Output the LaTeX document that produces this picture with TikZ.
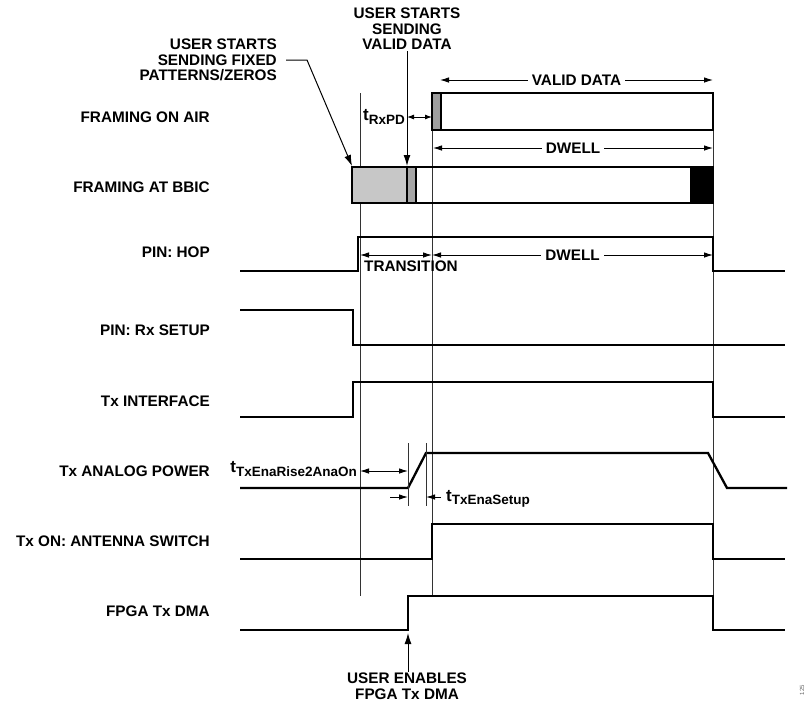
\documentclass[tikz,border=0pt]{standalone}
\usepackage{fontspec}
\setmainfont{Liberation Sans}
\usetikzlibrary{arrows.meta}

\newcommand{\tsub}[1]{{\fontsize{17}{17}\selectfont t}\raisebox{-0.45ex}{\fontsize{13.5}{14}\selectfont #1}}

\begin{document}
\begin{tikzpicture}[x=1pt, y=-1pt,
    every node/.style={font=\fontsize{15.3}{15.5}\selectfont\bfseries, inner sep=1pt},
    sig/.style={line width=2.3pt, line join=miter},
    guide/.style={line width=0.8pt, black!80},
    frame/.style={draw, line width=2pt},
    dim/.style={line width=0.9pt, {Latex[length=9pt,width=5.5pt]}-{Latex[length=9pt,width=5.5pt]}},
    tick/.style={line width=0.9pt, -{Latex[length=9pt,width=5.5pt]}},
    ptr/.style={line width=1pt, -{Latex[length=11pt,width=7pt]}}]

    \useasboundingbox (0,0) rectangle (810,705);

    % Row labels
        \foreach \y/\txt/\nm in {117/FRAMING ON AIR/air, 187/FRAMING AT BBIC/bbic, 252/PIN: HOP/hop,
                330/PIN: Rx SETUP/rxsetup, 401/Tx INTERFACE/txif, 471/Tx ANALOG POWER/txpwr,
                541/Tx ON: ANTENNA SWITCH/txon, 611/FPGA Tx DMA/dma} {
            \node[anchor=east] (lbl-\nm) at (211,\y) {\txt};
        }

    % Guide lines
        \draw[guide] (360,93) -- (360,596);
        \draw[guide] (432,93) -- (432,596);
        \draw[guide] (713,93) -- (713,596);

    % Framing on air
        \fill[black!38] (432,93) rectangle (441,130);
        \draw[frame] (432,93) rectangle (713,130);
        \draw[line width=1.4pt] (441,93) -- (441,130);
        \draw[dim] (440,80) -- node[fill=white, inner sep=4pt] (validdata) {VALID DATA} (713,80);
        \node[anchor=east] (rxpd) at (406,117) {\tsub{RxPD}};
        \draw[line width=0.9pt, {Latex[length=7pt,width=5pt]}-{Latex[length=7pt,width=5pt]}] (rxpd.east |- 0,117) ++(1,0) -- (432,117);
        \draw[dim] (433,148) -- node[fill=white, inner sep=4pt] (dwellair) {DWELL} (713,148);

    % Framing at BBIC
        \fill[black!22] (352,167) rectangle (407,203);
        \fill[black!35] (407,167) rectangle (416,203);
        \fill[black] (690,167) rectangle (713,203);
        \draw[frame] (352,167) rectangle (713,203);
        \draw[line width=1.4pt] (407,167) -- (407,203) (416,167) -- (416,203);

    % Pointers from the top
        \node[align=right, anchor=east] (fixed) at (278,60) {USER STARTS\\SENDING FIXED\\PATTERNS/ZEROS};
        \coordinate (fixedtip) at (352,166);
        \draw[ptr] (fixed.east |- 0,60) ++(8,0) -- (307,60) -- (fixedtip);
        \node[align=center] (valid) at (407,29) {USER STARTS\\SENDING\\VALID DATA};
        \coordinate (validtip) at (407,166);
        \draw[ptr] (valid.south) -- (validtip);

    % PIN: HOP
        \draw[sig] (240,271) -- (358,271) -- (358,237) -- (713,237) -- (713,271) -- (785,271);
        \draw[dim] (360,255) -- (432,255);
        \node[anchor=north west] (trans) at (363,260) {TRANSITION};
        \draw[dim] (432,255) -- node[fill=white, inner sep=4pt] (dwellhop) {DWELL} (713,255);

    % PIN: Rx SETUP
        \draw[sig] (240,310) -- (353,310) -- (353,345) -- (785,345);

    % Tx INTERFACE
        \draw[sig] (240,417) -- (353,417) -- (353,382) -- (713,382) -- (713,417) -- (785,417);

    % Tx ANALOG POWER
        \draw[sig] (240,488) -- (408,488) -- (426,453) -- (708,453) -- (727,488) -- (787,488);
        \draw[guide] (408,443) -- (408,506);
        \draw[guide] (426,443) -- (426,506);
        \node[anchor=east] (anaon) at (358,469) {\tsub{TxEnaRise2AnaOn}};
        \draw[dim] (360,471) -- (408,471);
        \draw[tick] (390,497) -- (408,497);
        \draw[tick] (441,497) -- (426,497);
        \node[anchor=west] (setup) at (445,499) {\tsub{TxEnaSetup}};

    % Tx ON: ANTENNA SWITCH
        \draw[sig] (240,559) -- (432,559) -- (432,524) -- (713,524) -- (713,559) -- (785,559);

    % FPGA Tx DMA
        \draw[sig] (240,630) -- (408,630) -- (408,596) -- (713,596) -- (713,630) -- (785,630);
        \node[align=center] (dmaen) at (407,686) {USER ENABLES\\FPGA Tx DMA};
        \coordinate (dmatip) at (408,633);
        \draw[ptr] (dmaen.north -| dmatip) -- (dmatip);

    % Figure number
        \node[rotate=90, font=\fontsize{6}{6}\selectfont, black!60] (fignum) at (802,690) {125};
\end{tikzpicture}
\end{document}
